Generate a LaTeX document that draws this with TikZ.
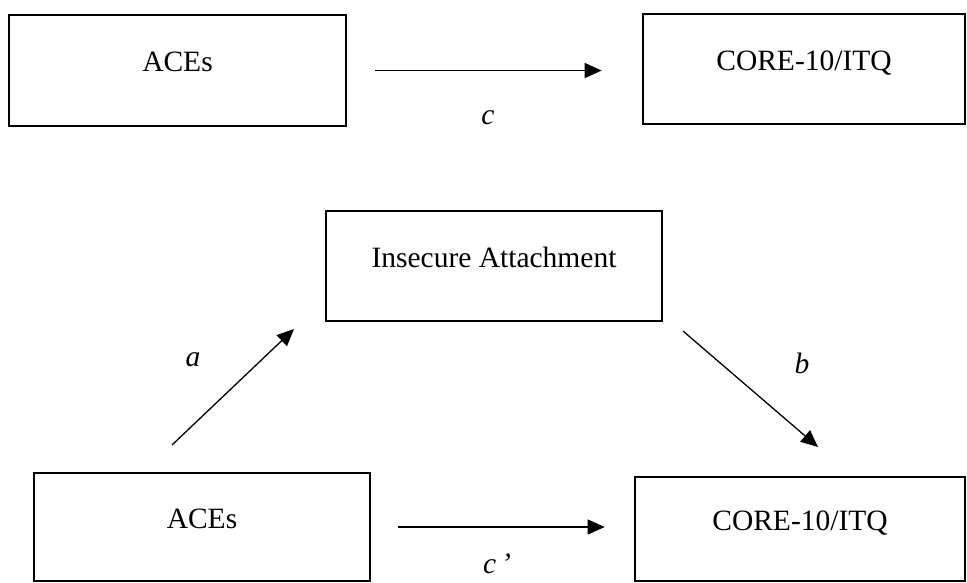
\documentclass[tikz,border=0pt]{standalone}
\usepackage{fontspec}
\setmainfont{Liberation Serif}
\usetikzlibrary{arrows.meta}

\begin{document}
\begin{tikzpicture}[x=1pt, y=-1pt,
        font=\fontsize{29.5}{35}\selectfont,
        >={Triangle[length=17pt, width=15pt]},
        box/.style={draw, rectangle, line width=2.6pt, inner sep=0pt,
            text height=21pt, text depth=19pt},
        link/.style={->, line width=1.3pt},
        lbl/.style={font=\fontsize{29.5}{35}\selectfont\itshape, inner sep=0pt, anchor=base}]
        \useasboundingbox (0, 0) rectangle (967, 582);

        % Total effect
        \node [box, minimum width=337pt, minimum height=111pt] (ACEsTop) at (177.5, 70.5) {ACEs};
        \node [box, minimum width=322pt, minimum height=110pt] (CORETop) at (804, 69) {CORE-10/ITQ};

        % Mediation model
        \node [box, minimum width=336pt, minimum height=110pt] (Attach) at (494, 266) {Insecure Attachment};
        \node [box, minimum width=336pt, minimum height=108pt] (ACEsBot) at (202, 527) {ACEs};
        \node [box, minimum width=330pt, minimum height=104pt] (COREBot) at (800, 529) {CORE-10/ITQ};

        % Free arrow ends
        \coordinate (aFrom) at (172, 445);
        \coordinate (aTo) at (294, 329);
        \coordinate (bFrom) at (683, 331);
        \coordinate (bTo) at (818, 447);

        % Edges
        \draw[link, shorten <=28pt, shorten >=40pt] (ACEsTop.east) -- (ACEsTop.east -| CORETop.west);
        \draw[link] (aFrom) -- (aTo);
        \draw[link] (bFrom) -- (bTo);
        \draw[link, shorten <=27pt, shorten >=29pt] (ACEsBot.east) -- (ACEsBot.east -| COREBot.west);

        % Path labels
        \node [lbl] (labC) at (488, 124) {c};
        \node [lbl] (labA) at (193, 366) {a};
        \node [lbl] (labB) at (802, 373) {b};
        \node [lbl] (labCp) at (497, 573) {c\,’};
    \end{tikzpicture}
\end{document}
